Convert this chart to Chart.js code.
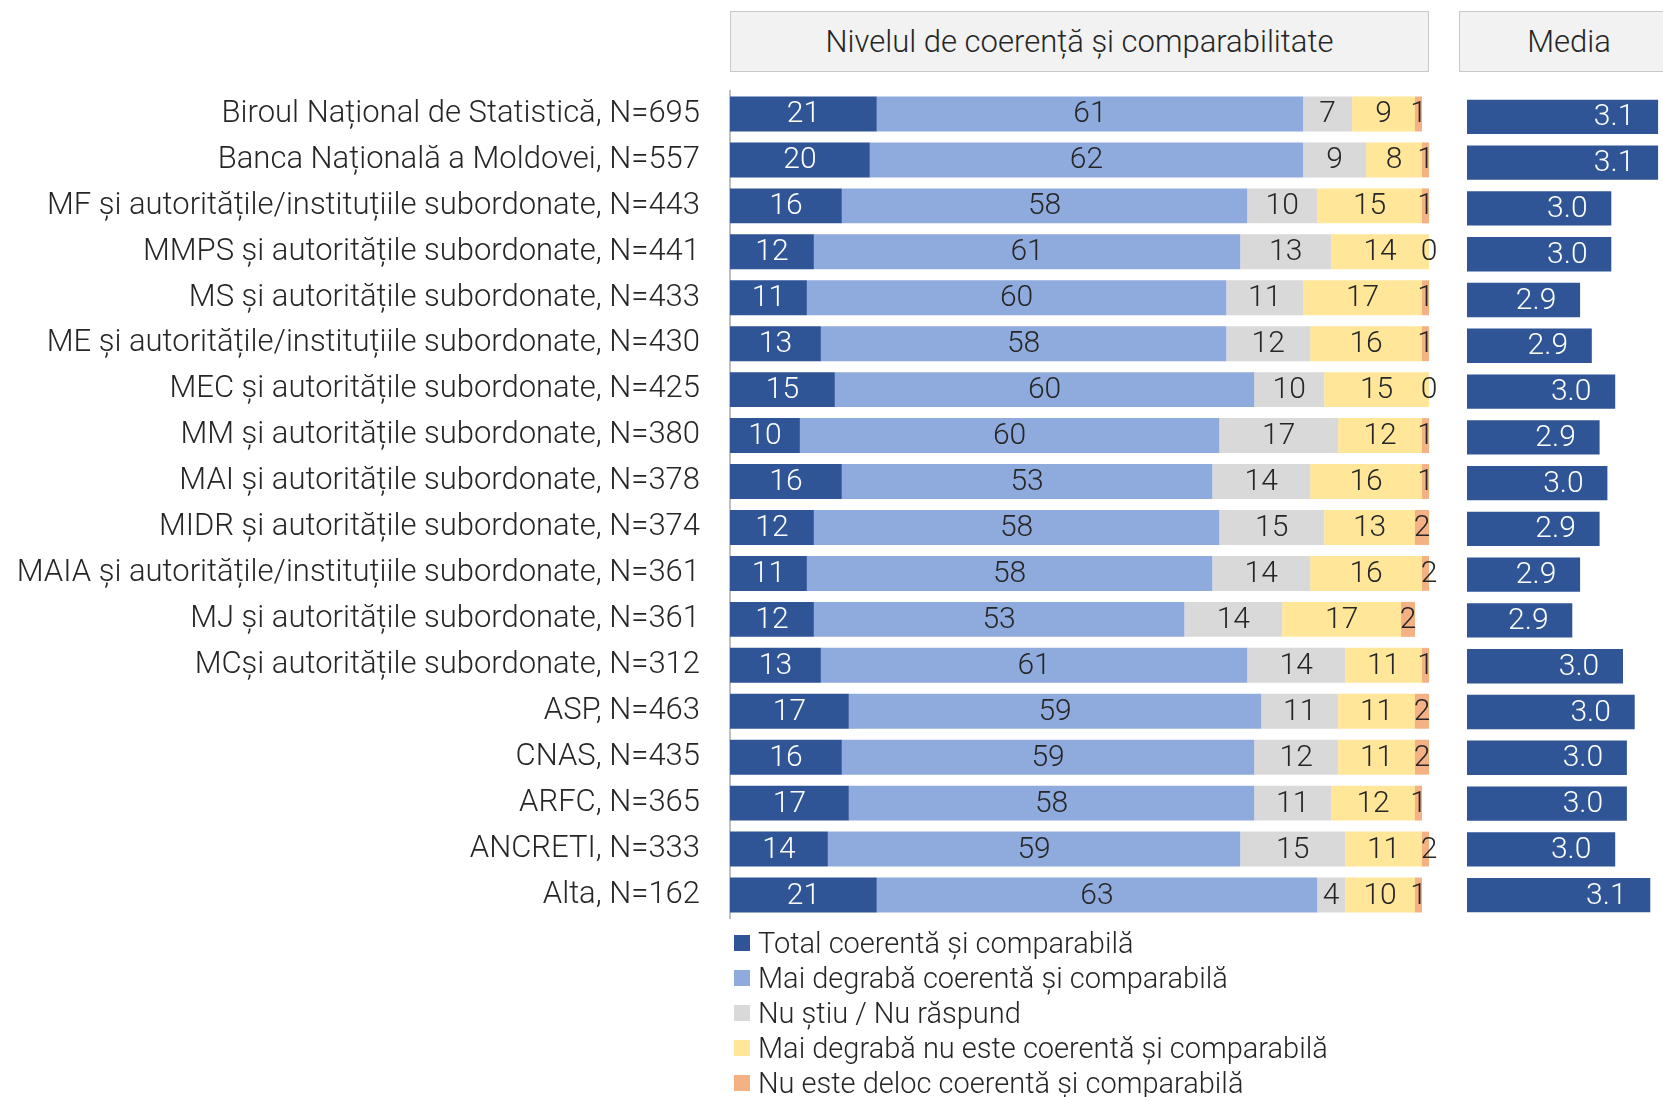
<!DOCTYPE html>
<html>
<head>
<meta charset="utf-8">
<script src="https://cdn.jsdelivr.net/npm/chart.js@4.4.1/dist/chart.umd.min.js"></script>
<style>
  body { margin: 0; background: #fff; }
  #wrap { position: relative; width: 1663px; height: 1097px; overflow: hidden; font-family: Roboto, sans-serif; }
  .hdr { position: absolute; box-sizing: border-box; background: #f2f2f2; border: 1px solid #c9c9c9;
         color: #262626; font: 300 31px Roboto, sans-serif; display: flex; align-items: center; justify-content: center; }
  #legend { position: absolute; left: 734px; top: 926px; font: 300 29px Roboto, sans-serif; color: #262626; }
  .li { height: 34.8px; display: flex; align-items: center; white-space: nowrap; }
  .sw { width: 16px; height: 16px; margin-right: 8px; flex: none; }
  canvas { position: absolute; top: 0; }
</style>
</head>
<body>
<div id="wrap">
  <div class="hdr" style="left:730px;top:11px;width:699px;height:61px;">Nivelul de coerență și comparabilitate</div>
  <div class="hdr" style="left:1459px;top:11px;width:220px;height:61px;">Media</div>
  <canvas id="mainChart" width="1440" height="940" style="left:0"></canvas>
  <canvas id="mediaChart" width="223" height="940" style="left:1440px"></canvas>
  <div id="legend"></div>
</div>
<script>
const categories = [
  'Biroul Național de Statistică, N=695',
  'Banca Națională a Moldovei, N=557',
  'MF și autoritățile/instituțiile subordonate, N=443',
  'MMPS și autoritățile subordonate, N=441',
  'MS și autoritățile subordonate, N=433',
  'ME și autoritățile/instituțiile subordonate, N=430',
  'MEC și autoritățile subordonate, N=425',
  'MM și autoritățile subordonate, N=380',
  'MAI și autoritățile subordonate, N=378',
  'MIDR și autoritățile subordonate, N=374',
  'MAIA și autoritățile/instituțiile subordonate, N=361',
  'MJ și autoritățile subordonate, N=361',
  'MCși autoritățile subordonate, N=312',
  'ASP, N=463',
  'CNAS, N=435',
  'ARFC, N=365',
  'ANCRETI, N=333',
  'Alta, N=162'
];

const seriesNames = [
  'Total coerentă și comparabilă',
  'Mai degrabă coerentă și comparabilă',
  'Nu știu / Nu răspund',
  'Mai degrabă nu este coerentă și comparabilă',
  'Nu este deloc coerentă și comparabilă'
];
const seriesColors = ['#2f5597', '#8faadc', '#d9d9d9', '#ffe699', '#f4b183'];

const totalCoerenta    = [21, 20, 16, 12, 11, 13, 15, 10, 16, 12, 11, 12, 13, 17, 16, 17, 14, 21];
const maiDegrabaCoer   = [61, 62, 58, 61, 60, 58, 60, 60, 53, 58, 58, 53, 61, 59, 59, 58, 59, 63];
const nuStiu           = [7, 9, 10, 13, 11, 12, 10, 17, 14, 15, 14, 14, 14, 11, 12, 11, 15, 4];
const maiDegrabaNu     = [9, 8, 15, 14, 17, 16, 15, 12, 16, 13, 16, 17, 11, 11, 11, 12, 11, 10];
const deloc            = [1, 1, 1, 0, 1, 1, 0, 1, 1, 2, 2, 2, 1, 2, 2, 1, 2, 1];

// media (bar length, label rounded to one decimal)
const media = [3.09, 3.09, 2.97, 2.97, 2.89, 2.92, 2.98, 2.94, 2.96, 2.94, 2.89, 2.87, 3.00, 3.03, 3.01, 3.01, 2.98, 3.07];
const mediaMin = 2.6, mediaMax = 3.1;

const FONT = 'Roboto, sans-serif';
const TEXT = '#262626';

const seriesData = [totalCoerenta, maiDegrabaCoer, nuStiu, maiDegrabaNu, deloc];

// draw numbers on the bars
const barLabels = {
  id: 'barLabels',
  afterDatasetsDraw(chart, args, opts) {
    const ctx = chart.ctx;
    ctx.save();
    ctx.font = '300 30px ' + FONT;
    ctx.textBaseline = 'middle';
    ctx.textAlign = 'center';
    chart.data.datasets.forEach((ds, i) => {
      const meta = chart.getDatasetMeta(i);
      meta.data.forEach((bar, j) => {
        const v = ds.data[j];
        ctx.fillStyle = opts.colors[i];
        if (opts.media) {
          ctx.fillText(v.toFixed(1), bar.x - 44, bar.y + 1);
        } else {
          ctx.fillText(String(v), (bar.x + bar.base) / 2, bar.y + 1);
        }
      });
    });
    ctx.restore();
  }
};

new Chart(document.getElementById('mainChart').getContext('2d'), {
  type: 'bar',
  data: {
    labels: categories,
    datasets: seriesNames.map((name, i) => ({
      label: name,
      data: seriesData[i],
      backgroundColor: seriesColors[i],
      borderWidth: 0,
      barPercentage: 0.76,
      categoryPercentage: 1
    }))
  },
  options: {
    indexAxis: 'y',
    responsive: false,
    animation: false,
    layout: { padding: { top: 91, bottom: 22, left: 0, right: 11 } },
    scales: {
      x: { stacked: true, min: 0, max: 100, display: false },
      y: {
        stacked: true,
        afterFit(scale) {
          scale.width = 730;
          scale.paddingTop = 0;
          scale.paddingBottom = 0;
        },
        grid: { display: false, drawTicks: false },
        border: { display: true, color: '#bfbfbf', width: 2 },
        ticks: { padding: 30, color: TEXT, font: { family: FONT, size: 31, weight: 300 } }
      }
    },
    plugins: {
      legend: { display: false },
      tooltip: { enabled: false },
      barLabels: { colors: ['#ffffff', TEXT, TEXT, TEXT, TEXT] }
    }
  },
  plugins: [barLabels]
});

new Chart(document.getElementById('mediaChart').getContext('2d'), {
  type: 'bar',
  data: {
    labels: categories,
    datasets: [{
      label: 'Media',
      data: media,
      backgroundColor: '#2f5597',
      borderWidth: 0,
      barPercentage: 0.75,
      categoryPercentage: 1
    }]
  },
  options: {
    indexAxis: 'y',
    responsive: false,
    animation: false,
    layout: { padding: { top: 94, bottom: 22, left: 27, right: 1 } },
    scales: {
      x: { min: mediaMin, max: mediaMax, display: false },
      y: { display: false }
    },
    plugins: {
      legend: { display: false },
      tooltip: { enabled: false },
      barLabels: { colors: ['#ffffff'], media: true }
    }
  },
  plugins: [barLabels]
});

// legend as a vertical list
const legendEl = document.getElementById('legend');
seriesNames.forEach((name, i) => {
  const row = document.createElement('div');
  row.className = 'li';
  row.innerHTML = '<span class="sw" style="background:' + seriesColors[i] + '"></span>' + name;
  legendEl.appendChild(row);
});
</script>
</body>
</html>
